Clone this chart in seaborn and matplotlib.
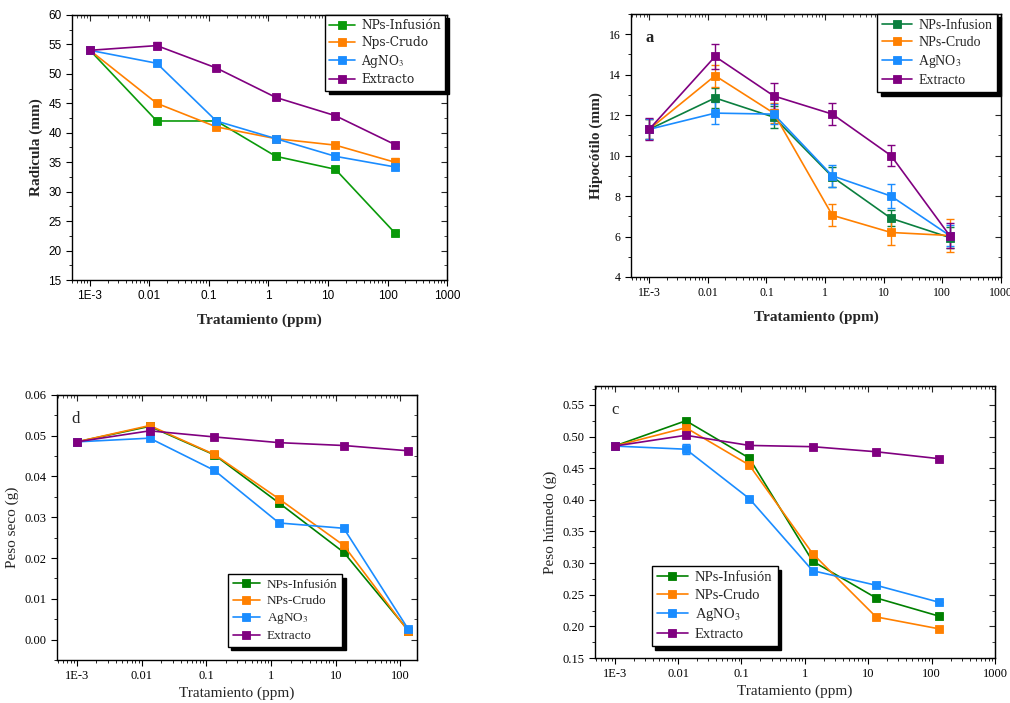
import numpy as np
import pandas as pd
import matplotlib
matplotlib.use("Agg")
import matplotlib.pyplot as plt
import matplotlib.ticker as mticker
import seaborn as sns

sns.set_style("ticks")
plt.rcParams['font.family'] = ['Liberation Serif', 'DejaVu Serif']
plt.rcParams['mathtext.fontset'] = 'stix'

# ---------------- datos ----------------
dosis = [0.001, 0.0133, 0.133, 1.33, 13.3, 133]
x_ticks = [0.001, 0.01, 0.1, 1, 10, 100, 1000]
x_labels = ["1E-3", "0.01", "0.1", "1", "10", "100", "1000"]

# Radicula (mm)
rad_infusion = [54.0, 42.0, 42.0, 36.0, 33.8, 23.0]
rad_crudo = [54.0, 45.0, 41.0, 39.0, 37.9, 35.0]
rad_agno3 = [54.0, 51.8, 42.0, 39.0, 36.0, 34.2]
rad_extracto = [54.0, 54.8, 51.0, 46.0, 42.9, 38.0]
rad_err_infusion = [0.4, 0.5, 0.3, 0.4, 0.3, 0.4]
rad_err_crudo = [0.4, 0.4, 0.3, 0.3, 0.4, 0.7]
rad_err_agno3 = [0.4, 0.5, 0.4, 0.4, 0.5, 0.4]
rad_err_extracto = [0.5, 0.6, 0.4, 0.4, 0.5, 0.4]

# Hipocotilo (mm)
hip_infusion = [11.3, 12.85, 11.9, 8.95, 6.9, 5.95]
hip_crudo = [11.3, 13.95, 12.1, 7.05, 6.2, 6.05]
hip_agno3 = [11.3, 12.1, 12.05, 9.0, 8.0, 6.05]
hip_extracto = [11.3, 14.9, 12.95, 12.05, 10.0, 6.05]
hip_err_infusion = [0.5, 0.5, 0.55, 0.5, 0.4, 0.5]
hip_err_crudo = [0.5, 0.55, 0.5, 0.55, 0.6, 0.8]
hip_err_agno3 = [0.5, 0.55, 0.5, 0.55, 0.6, 0.5]
hip_err_extracto = [0.55, 0.6, 0.65, 0.55, 0.5, 0.6]

# Peso seco (g)
ps_infusion = [0.0485, 0.0523, 0.0453, 0.0335, 0.0214, 0.0022]
ps_crudo = [0.0485, 0.0525, 0.0454, 0.0345, 0.0231, 0.0020]
ps_agno3 = [0.0485, 0.0494, 0.0415, 0.0286, 0.0273, 0.0025]
ps_extracto = [0.0485, 0.0512, 0.0497, 0.0483, 0.0476, 0.0463]

# Peso humedo (g)
ph_infusion = [0.485, 0.525, 0.466, 0.303, 0.245, 0.216]
ph_crudo = [0.485, 0.514, 0.455, 0.315, 0.215, 0.196]
ph_agno3 = [0.485, 0.480, 0.402, 0.288, 0.265, 0.238]
ph_extracto = [0.485, 0.502, 0.486, 0.484, 0.476, 0.465]
ph_err_agno3 = [0.0, 0.008, 0.0, 0.0, 0.0, 0.0]

green = '#0a9a0a'
green2 = '#0b7f3f'
orange = '#ff8000'
blue = '#1a8cff'
purple = '#800080'

fig = plt.figure(figsize=(10.1, 7.03), dpi=100)


def panel(rect, series, xlim, ylim, ymaj, ymin, yfmt, ylabel, bold, tickfont,
          legfont, legloc, legbbox, tag=None, xlabs=x_labels, xtks=x_ticks,
          labelpad=8):
    ax = fig.add_axes(rect)
    for name, vals, err, col in series:
        df = pd.DataFrame({'x': dosis, 'y': vals})
        sns.lineplot(data=df, x='x', y='y', ax=ax, color=col, lw=1.2,
                     marker='s', markersize=5.5, mec=col, mew=0.6,
                     label=name, legend=False, zorder=3)
        if err is not None:
            ax.errorbar(dosis, vals, yerr=err, fmt='none', ecolor=col,
                        elinewidth=1.0, capsize=3, capthick=1.0, zorder=2)
    ax.set_xscale('log')
    ax.set_xlim(*xlim)
    ax.set_ylim(*ylim)
    ax.set_xticks(xtks)
    ax.set_xticklabels(xlabs)
    ax.xaxis.set_minor_locator(mticker.LogLocator(base=10, subs=np.arange(2, 10), numticks=20))
    ax.xaxis.set_minor_formatter(mticker.NullFormatter())
    ax.yaxis.set_major_locator(mticker.MultipleLocator(ymaj))
    ax.yaxis.set_minor_locator(mticker.MultipleLocator(ymin))
    ax.yaxis.set_major_formatter(mticker.FormatStrFormatter(yfmt))
    ax.tick_params(which='both', direction='out', colors='black')
    ax.tick_params(which='major', length=4, width=0.8)
    ax.tick_params(which='minor', length=2, width=0.6)
    for lab in ax.get_xticklabels() + ax.get_yticklabels():
        lab.set_fontfamily(tickfont[0])
        lab.set_fontsize(tickfont[1])
    weight = 'bold' if bold else 'normal'
    ax.set_xlabel("Tratamiento (ppm)", fontsize=11, fontweight=weight, labelpad=labelpad)
    ax.set_ylabel(ylabel, fontsize=11, fontweight=weight)
    for sp in ax.spines.values():
        sp.set_linewidth(1.0)
        sp.set_color('black')
    # mirrored ticks pointing inward
    top = ax.secondary_xaxis('top')
    top.set_xticks(xtks)
    top.xaxis.set_minor_locator(mticker.LogLocator(base=10, subs=np.arange(2, 10), numticks=20))
    top.tick_params(which='both', direction='in', labeltop=False)
    top.tick_params(which='major', length=4)
    top.tick_params(which='minor', length=2)
    right = ax.secondary_yaxis('right')
    right.yaxis.set_major_locator(mticker.MultipleLocator(ymaj))
    right.yaxis.set_minor_locator(mticker.MultipleLocator(ymin))
    right.tick_params(which='both', direction='in', labelright=False)
    right.tick_params(which='major', length=4)
    right.tick_params(which='minor', length=2)
    leg = ax.legend(loc=legloc, bbox_to_anchor=legbbox, frameon=True,
                    fancybox=False, shadow={'color': 'black', 'alpha': 1, 'ox': 2.5, 'oy': -2.5},
                    framealpha=1, edgecolor='black', handlelength=2.1,
                    borderpad=0.35, labelspacing=0.3, handletextpad=0.5,
                    borderaxespad=0,
                    prop={'family': legfont[0], 'size': legfont[1]})
    leg.get_frame().set_linewidth(1.0)
    if tag is not None:
        ax.text(0.04, 0.94, tag, transform=ax.transAxes, fontsize=12,
                fontweight='bold' if tag == 'a' else 'normal', va='top')
    return ax


# Radicula
panel([0.0713, 0.6017, 0.3713, 0.377],
      [("NPs-Infusión", rad_infusion, rad_err_infusion, green),
       ("Nps-Crudo", rad_crudo, rad_err_crudo, orange),
       ("AgNO$_3$", rad_agno3, rad_err_agno3, blue),
       ("Extracto", rad_extracto, rad_err_extracto, purple)],
      (5e-4, 1000), (15, 60), 5, 2.5, '%d', "Radicula (mm)", True,
      ('Liberation Sans', 8.5), ('DejaVu Serif', 8.8), 'upper right', (0.995, 1.0))

# Hipocotilo
panel([0.6248, 0.606, 0.3663, 0.3741],
      [("NPs-Infusion", hip_infusion, hip_err_infusion, green2),
       ("NPs-Crudo", hip_crudo, hip_err_crudo, orange),
       ("AgNO$_3$", hip_agno3, hip_err_agno3, blue),
       ("Extracto", hip_extracto, hip_err_extracto, purple)],
      (4.9e-4, 1000), (4, 17), 2, 1, '%d', "Hipocótilo (mm)", True,
      ('Liberation Serif', 8.5), ('Liberation Serif', 10), 'upper right', (0.99, 1.0), tag='a')

# Peso seco
panel([0.0564, 0.0612, 0.3564, 0.377],
      [("NPs-Infusión", ps_infusion, None, '#008000'),
       ("NPs-Crudo", ps_crudo, None, orange),
       ("AgNO$_3$", ps_agno3, None, blue),
       ("Extracto", ps_extracto, None, purple)],
      (4.9e-4, 180), (-0.005, 0.06), 0.01, 0.005, '%.2f', "Peso seco (g)", False,
      ('Liberation Serif', 9), ('Liberation Serif', 9.5), 'lower left', (0.475, 0.049), tag='d',
      xlabs=x_labels[:-1], xtks=x_ticks[:-1], labelpad=3)

# Peso humedo
panel([0.5891, 0.064, 0.396, 0.387],
      [("NPs-Infusión", ph_infusion, None, '#008000'),
       ("NPs-Crudo", ph_crudo, None, orange),
       ("AgNO$_3$", ph_agno3, ph_err_agno3, blue),
       ("Extracto", ph_extracto, None, purple)],
      (4.9e-4, 1000), (0.15, 0.58), 0.05, 0.025, '%.2f', "Peso húmedo (g)", False,
      ('Liberation Serif', 9), ('Liberation Serif', 10.5), 'lower left', (0.1425, 0.044), tag='c',
      labelpad=3)

fig.savefig("out.png", dpi=100)
